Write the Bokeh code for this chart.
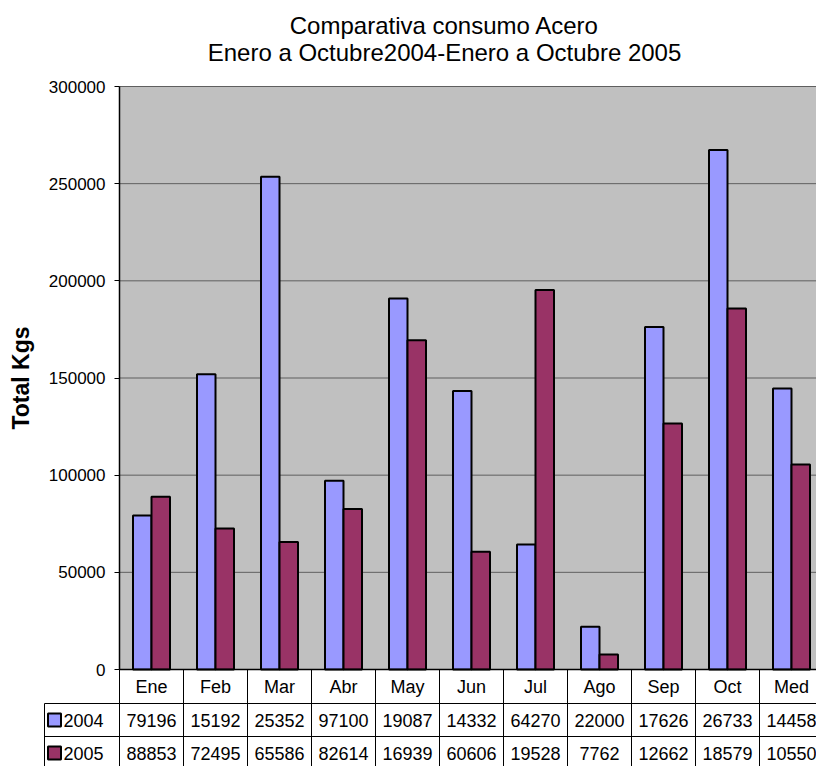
from bokeh.plotting import figure
from bokeh.models import Range1d, FixedTicker, Label, ColumnDataSource, NumeralTickFormatter
from bokeh.transform import dodge
from bokeh.core.properties import value
from bokeh.embed import file_html
from bokeh.resources import INLINE

# ---------------- data ----------------
months = ["Ene", "Feb", "Mar", "Abr", "May", "Jun", "Jul", "Ago", "Sep", "Oct", "Med"]
kg_2004 = [79196, 151920, 253520, 97100, 190870, 143320, 64270, 22000, 176260, 267330, 144580]
kg_2005 = [88853, 72495, 65586, 82614, 169390, 60606, 195280, 7762, 126620, 185790, 105500]
series_names = ["2004", "2005"]
y_ticks = [0, 50000, 100000, 150000, 200000, 250000, 300000]
title_line_1 = "Comparativa consumo Acero"
title_line_2 = "Enero a Octubre2004-Enero a Octubre 2005"
y_title = "Total Kgs"

# ---------------- layout (pixels) ----------------
FIG_W, FIG_H = 816, 766
PLOT_TOP_PX = 86         # figure top -> plot area top
AXIS_PX = 119            # figure left -> value axis
COL_PX = 64              # width of one category column
PLOT_H_PX = 583          # height of the plot area
Y_MAX = y_ticks[-1]
HEADER_PX = 34
ROW_PX = 33
LEGEND_LEFT_PX = 75      # legend column width (left of the axis)
BAR_PX = 18.5
TITLE_X_PX = 444
TITLE_BASE_PX = [25, 52]

PX_X = 1.0 / COL_PX
PX_Y = Y_MAX / PLOT_H_PX
n = len(months)
x_start = -AXIS_PX * PX_X
x_end = (FIG_W - AXIS_PX) * PX_X
y_end = Y_MAX + PLOT_TOP_PX * PX_Y
y_start = Y_MAX - (FIG_H - PLOT_TOP_PX) * PX_Y
bar_w = BAR_PX * PX_X

FONT = value("Liberation Sans")
C04 = "#9999FF"
C05 = "#993366"

p = figure(width=FIG_W, height=FIG_H, output_backend="svg", toolbar_location=None,
           x_range=Range1d(x_start, x_end), y_range=Range1d(y_start, y_end),
           min_border=0)
p.outline_line_color = None
p.xgrid.visible = False
p.ygrid.visible = False
p.background_fill_color = "white"
p.border_fill_color = "white"

# two-line chart title
for txt, base in zip([title_line_1, title_line_2], TITLE_BASE_PX):
    p.add_layout(Label(x=(TITLE_X_PX - AXIS_PX) * PX_X, y=Y_MAX + (PLOT_TOP_PX - base) * PX_Y,
                       text=txt, text_align="center", text_baseline="alphabetic",
                       text_font="Liberation Sans", text_font_size="24px", text_color="black"))

src = ColumnDataSource(dict(
    x=[i + 0.5 for i in range(n)],
    kg04=kg_2004, kg05=kg_2005,
    t04=[str(v)[:5] for v in kg_2004],
    t05=[str(v)[:5] for v in kg_2005],
))

# plot area
p.quad(left=0, right=n, bottom=0, top=Y_MAX, fill_color="#C0C0C0", line_color=None)
p.segment(x0=[0] * len(y_ticks), x1=[n] * len(y_ticks), y0=y_ticks, y1=y_ticks,
          line_color="#5f5f5f", line_width=1)

# bars
p.vbar(x=dodge("x", -bar_w / 2), top="kg04", width=bar_w, bottom=0, source=src,
       fill_color=C04, line_color="black", line_width=2)
p.vbar(x=dodge("x", bar_w / 2), top="kg05", width=bar_w, bottom=0, source=src,
       fill_color=C05, line_color="black", line_width=2)

# axes
ya = p.yaxis[0]
ya.fixed_location = 0
ya.bounds = (0, Y_MAX)
ya.ticker = FixedTicker(ticks=y_ticks)
ya.formatter = NumeralTickFormatter(format="0")
ya.minor_tick_line_color = None
ya.major_tick_in = 0
ya.major_tick_out = 5
ya.major_tick_line_color = "black"
ya.axis_line_color = "black"
ya.axis_line_width = 1.5
ya.major_label_text_font = "Liberation Sans"
ya.major_label_text_font_size = "17px"
ya.major_label_text_color = "black"
ya.major_label_standoff = 9
ya.axis_label = y_title
ya.axis_label_text_font = "Liberation Sans"
ya.axis_label_text_font_size = "23px"
ya.axis_label_text_font_style = "bold"
ya.axis_label_text_color = "black"
ya.axis_label_standoff = 12

xa = p.xaxis[0]
xa.fixed_location = 0
xa.bounds = (0, n)
xa.ticker = FixedTicker(ticks=[i + 0.5 for i in range(n)])
xa.major_label_overrides = {i + 0.5: m for i, m in enumerate(months)}
xa.minor_tick_line_color = None
xa.major_tick_in = 0
xa.major_tick_out = 0
xa.axis_line_color = "black"
xa.axis_line_width = 1.5
xa.major_label_text_font = "Liberation Sans"
xa.major_label_text_font_size = "18px"
xa.major_label_text_color = "black"
xa.major_label_standoff = 7

# data table
row1_top = -HEADER_PX * PX_Y
row2_top = -(HEADER_PX + ROW_PX) * PX_Y
row1_c = -(HEADER_PX + ROW_PX / 2) * PX_Y
row2_c = -(HEADER_PX + ROW_PX * 1.5) * PX_Y
leg_left = -LEGEND_LEFT_PX * PX_X

p.segment(x0=list(range(n + 1)), x1=list(range(n + 1)), y0=[0] * (n + 1), y1=[y_start] * (n + 1),
          line_color="black", line_width=1)
p.segment(x0=[leg_left, leg_left, leg_left], x1=[n, n, leg_left],
          y0=[row1_top, row2_top, row1_top], y1=[row1_top, row2_top, y_start],
          line_color="black", line_width=1)

p.text(x="x", y=row1_c, text="t04", source=src, text_align="center", text_baseline="middle",
       text_font=FONT, text_font_size="18px", text_color="black")
p.text(x="x", y=row2_c, text="t05", source=src, text_align="center", text_baseline="middle",
       text_font=FONT, text_font_size="18px", text_color="black")

# legend keys inside the table
p.scatter(x=[leg_left + 10 * PX_X] * 2, y=[row1_c, row2_c], marker="square", size=13,
          fill_color=[C04, C05], line_color="black", line_width=2)
p.text(x=[leg_left + 19 * PX_X] * 2, y=[row1_c, row2_c], text=series_names,
       text_align="left", text_baseline="middle", text_font=FONT,
       text_font_size="18px", text_color="black")

open("out.html", "w").write(file_html(p, INLINE))
